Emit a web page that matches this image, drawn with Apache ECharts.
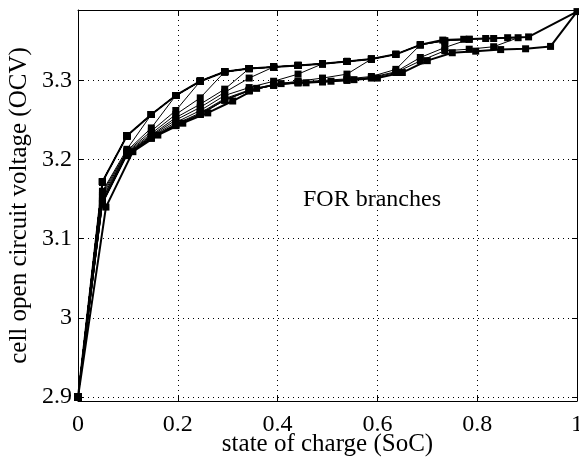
<!DOCTYPE html>
<html>
<head>
<meta charset="utf-8">
<script src="https://cdn.jsdelivr.net/npm/echarts@6/dist/echarts.min.js"></script>
<style>
html, body { margin: 0; padding: 0; background: #fff; }
#container { width: 579px; height: 463px; }
</style>
</head>
<body>
<div id="container"></div>
<script>
// charge path shared by all FOR branches
var chargeSoc = [0, 0.049, 0.098, 0.147, 0.196, 0.245, 0.294, 0.343, 0.392, 0.441, 0.49, 0.539, 0.588, 0.637, 0.686, 0.735, 0.784, 0.833, 0.882];
var chargeOcv = [2.9, 3.172, 3.230, 3.257, 3.281, 3.299, 3.311, 3.315, 3.317, 3.319, 3.321, 3.324, 3.327, 3.333, 3.345, 3.350, 3.352, 3.353, 3.354];

// major loop: charge tail up to full charge, then discharge back to empty
var majorTailSoc = [0.731, 0.773, 0.817, 0.861, 0.903, 1];
var majorTailOcv = [3.351, 3.352, 3.353, 3.354, 3.355, 3.387];
var majorDisSoc = [0.947, 0.897, 0.847, 0.797, 0.75, 0.7, 0.65, 0.6, 0.553, 0.507, 0.457, 0.407, 0.358, 0.31, 0.26, 0.21, 0.16, 0.11, 0.056, 0];
var majorDisOcv = [3.343, 3.340, 3.339, 3.337, 3.335, 3.325, 3.310, 3.303, 3.301, 3.299, 3.297, 3.296, 3.290, 3.274, 3.259, 3.246, 3.231, 3.21, 3.14, 2.9];

// reversal points (index into chargeSoc) and the discharge OCV that follows,
// read at chargeSoc[r-1], chargeSoc[r-2], ... chargeSoc[0]
var reversalIdx = [3, 4, 5, 6, 7, 8, 10, 12, 14, 16, 18];
var branchOcv = [
    [3.213, 3.160, 2.9],
    [3.240, 3.211, 3.158, 2.9],
    [3.262, 3.236, 3.210, 3.155, 2.9],
    [3.278, 3.257, 3.233, 3.209, 3.152, 2.9],
    [3.289, 3.270, 3.253, 3.231, 3.208, 3.150, 2.9],
    [3.303, 3.285, 3.266, 3.250, 3.230, 3.207, 3.148, 2.9],
    [3.308, 3.299, 3.291, 3.281, 3.262, 3.247, 3.229, 3.207, 3.147, 2.9],
    [3.308, 3.303, 3.299, 3.295, 3.288, 3.277, 3.259, 3.245, 3.228, 3.206, 3.146, 2.9],
    [3.314, 3.305, 3.302, 3.300, 3.298, 3.294, 3.287, 3.276, 3.258, 3.244, 3.228, 3.206, 3.145, 2.9],
    [3.3416, 3.329, 3.311, 3.304, 3.301, 3.299, 3.297, 3.294, 3.287, 3.275, 3.257, 3.243, 3.227, 3.206, 3.145, 2.9],
    [3.3426, 3.3395, 3.3375, 3.3247, 3.310, 3.303, 3.300, 3.298, 3.297, 3.294, 3.287, 3.275, 3.257, 3.243, 3.227, 3.205, 3.144, 2.9]
];

var font = 'Liberation Serif';
var series = [];

// major loop
var majorData = [];
for (var i = 0; i <= 14; i++) majorData.push([chargeSoc[i], chargeOcv[i]]);
for (var i = 0; i < majorTailSoc.length; i++) majorData.push([majorTailSoc[i], majorTailOcv[i]]);
for (var i = 0; i < majorDisSoc.length; i++) majorData.push([majorDisSoc[i], majorDisOcv[i]]);
series.push({
    name: 'major',
    type: 'line',
    data: majorData,
    symbol: 'rect',
    symbolSize: 7,
    itemStyle: { color: '#000' },
    lineStyle: { color: '#000', width: 2 }
});

// FOR branches
for (var b = 0; b < reversalIdx.length; b++) {
    var r = reversalIdx[b];
    var d = [];
    for (var i = 0; i <= r; i++) d.push([chargeSoc[i], chargeOcv[i]]);
    for (var j = 0; j < branchOcv[b].length; j++) d.push([chargeSoc[r - 1 - j], branchOcv[b][j]]);
    series.push({
        name: 'branch' + b,
        type: 'line',
        data: d,
        symbol: 'rect',
        symbolSize: 7,
        itemStyle: { color: '#000' },
        lineStyle: { color: '#000', width: 1 }
    });
}

var myChart = echarts.init(document.getElementById('container'));
var option = {
    animation: false,
    backgroundColor: '#fff',
    grid: { left: 78, right: 2, top: 10, bottom: 62, outerBoundsMode: 'none', containLabel: false },
    xAxis: [{
        type: 'value',
        min: 0,
        max: 1,
        interval: 0.2,
        position: 'bottom',
        name: 'state of charge (SoC)',
        nameLocation: 'middle',
        nameGap: 31,
        nameMoveOverlap: false,
        nameTextStyle: { fontFamily: font, fontSize: 25, color: '#000' },
        axisLine: { onZero: false, lineStyle: { color: '#000', width: 1 } },
        axisTick: { inside: true, length: 5, lineStyle: { color: '#000' } },
        axisLabel: { fontFamily: font, fontSize: 24, color: '#000', margin: 12 },
        splitLine: { show: true, lineStyle: { type: [1, 4], color: '#000', width: 1 } }
    }, {
        type: 'value',
        min: 0,
        max: 1,
        interval: 0.2,
        position: 'top',
        axisLine: { onZero: false, lineStyle: { color: '#000', width: 1 } },
        axisTick: { inside: true, length: 5, lineStyle: { color: '#000' } },
        axisLabel: { show: false },
        splitLine: { show: false }
    }],
    yAxis: [{
        type: 'value',
        min: 2.895,
        max: 3.389,
        splitNumber: 5,
        position: 'left',
        name: 'cell open circuit voltage (OCV)',
        nameLocation: 'middle',
        nameGap: 46,
        nameMoveOverlap: false,
        nameTextStyle: { fontFamily: font, fontSize: 25, color: '#000' },
        axisLine: { onZero: false, lineStyle: { color: '#000', width: 1 } },
        axisTick: { inside: true, length: 5, lineStyle: { color: '#000' } },
        axisLabel: {
            fontFamily: font, fontSize: 24, color: '#000', margin: 6,
            showMinLabel: false, showMaxLabel: false,
            formatter: function (v) {
                var k = Math.round(v * 10);
                if (Math.abs(v * 10 - k) > 1e-6) return '';
                return String(k / 10);
            }
        },
        splitLine: { show: true, lineStyle: { type: [1, 4], color: '#000', width: 1 } }
    }, {
        type: 'value',
        min: 2.895,
        max: 3.389,
        splitNumber: 5,
        position: 'right',
        axisLine: { onZero: false, lineStyle: { color: '#000', width: 1 } },
        axisTick: { inside: true, length: 5, lineStyle: { color: '#000' } },
        axisLabel: { show: false },
        splitLine: { show: false }
    }],
    graphic: [{
        type: 'text',
        left: 303,
        top: 188,
        style: { text: 'FOR branches', fontFamily: font, fontSize: 24, fill: '#000' }
    }],
    series: series
};
myChart.setOption(option);
</script>
</body>
</html>
